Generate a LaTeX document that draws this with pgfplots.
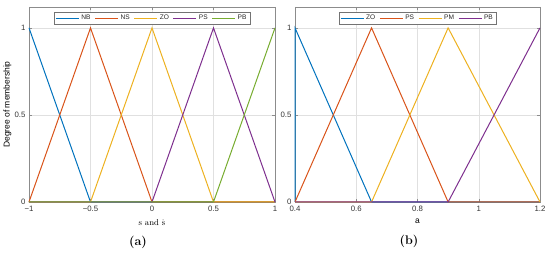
\documentclass[border=0pt]{standalone}
\usepackage{pgfplots}
\pgfplotsset{compat=1.18}
\usepackage{fontspec}
\newfontfamily\arial{Liberation Sans}
\definecolor{mB}{rgb}{0,0.447,0.741}
\definecolor{mO}{rgb}{0.85,0.325,0.098}
\definecolor{mY}{rgb}{0.929,0.694,0.125}
\definecolor{mP}{rgb}{0.494,0.184,0.556}
\definecolor{mG}{rgb}{0.466,0.674,0.188}
\pgfplotsset{
  mfstyle/.style={
    scale only axis, height=195pt, ymin=0, ymax=1.12,
    ytick={0,0.5,1}, yticklabels={0,0.5,1},
    /pgf/number format/assume math mode=true,
    tick label style={font=\arial\fontsize{7.8}{8}\selectfont, text=black!80},
    xticklabel style={yshift=-1pt},
    axis line style={black!45, line width=0.6pt},
    major tick style={black!45},
    tick align=inside, major tick length=3pt,
    xmajorgrids, ymajorgrids,
    grid style={black!12, line width=0.4pt},
    xtick pos=both, ytick pos=both,
    legend columns=-1,
    legend style={at={(0.5,0.975)}, anchor=north, draw=black!55, fill=white,
      font=\arial\fontsize{6.6}{7}\selectfont, text=black!85,
      inner sep=1.2pt, /tikz/every even column/.append style={column sep=2pt}},
    legend image code/.code={\draw[#1] (0pt,0pt) -- (23pt,0pt);},
    every axis plot/.append style={line width=1pt, mark=none},
    clip=false,
  }
}
\begin{document}
\begin{tikzpicture}[x=1pt,y=1pt]
\useasboundingbox (0,0) rectangle (550,254);
\begin{axis}[mfstyle, at={(29pt,52pt)}, anchor=south west, width=246pt,
  xmin=-1, xmax=1, xtick={-1,-0.5,0,0.5,1},
  xticklabels={−1,−0.5,0,0.5,1},
  ylabel={\arial\fontsize{8.5}{9}\selectfont Degree of membership},
  ylabel style={at={(axis description cs:0,0.5)}, anchor=south, yshift=14pt},
  xlabel={\fontsize{8.5}{9}\selectfont s and \.{s}},
  xlabel style={yshift=-1pt},
  ]
\addplot[mB] coordinates {(-1,1)(-0.5,0)(1,0)};
\addplot[mO] coordinates {(-1,0)(-0.5,1)(0,0)(1,0)};
\addplot[mY] coordinates {(-1,0)(-0.5,0)(0,1)(0.5,0)(1,0)};
\addplot[mP] coordinates {(-1,0)(0,0)(0.5,1)(1,0)};
\addplot[mG] coordinates {(-1,0)(0.5,0)(1,1)};
\legend{NB,NS,ZO,PS,PB}
\end{axis}
\begin{axis}[mfstyle, at={(295pt,52pt)}, anchor=south west, width=245pt,
  xmin=0.4, xmax=1.2, xtick={0.4,0.6,0.8,1,1.2},
  xticklabels={0.4,0.6,0.8,1,1.2},
  xlabel={\arial\fontsize{8.5}{9}\selectfont a},
  xlabel style={yshift=0pt},
  ]
\addplot[mB] coordinates {(0.4,0)(0.4,1)(0.65,0)(1.2,0)};
\addplot[mO] coordinates {(0.4,0)(0.65,1)(0.9,0)(1.2,0)};
\addplot[mY] coordinates {(0.4,0)(0.65,0)(0.9,1)(1.2,0)};
\addplot[mP] coordinates {(0.4,0)(0.9,0)(1.2,1)};
\legend{ZO,PS,PM,PB}
\end{axis}
\node at (138,12) {\fontsize{12.5}{13}\selectfont\textbf{(a)}};
\node at (409,13) {\fontsize{12.5}{13}\selectfont\textbf{(b)}};
\end{tikzpicture}
\end{document}
